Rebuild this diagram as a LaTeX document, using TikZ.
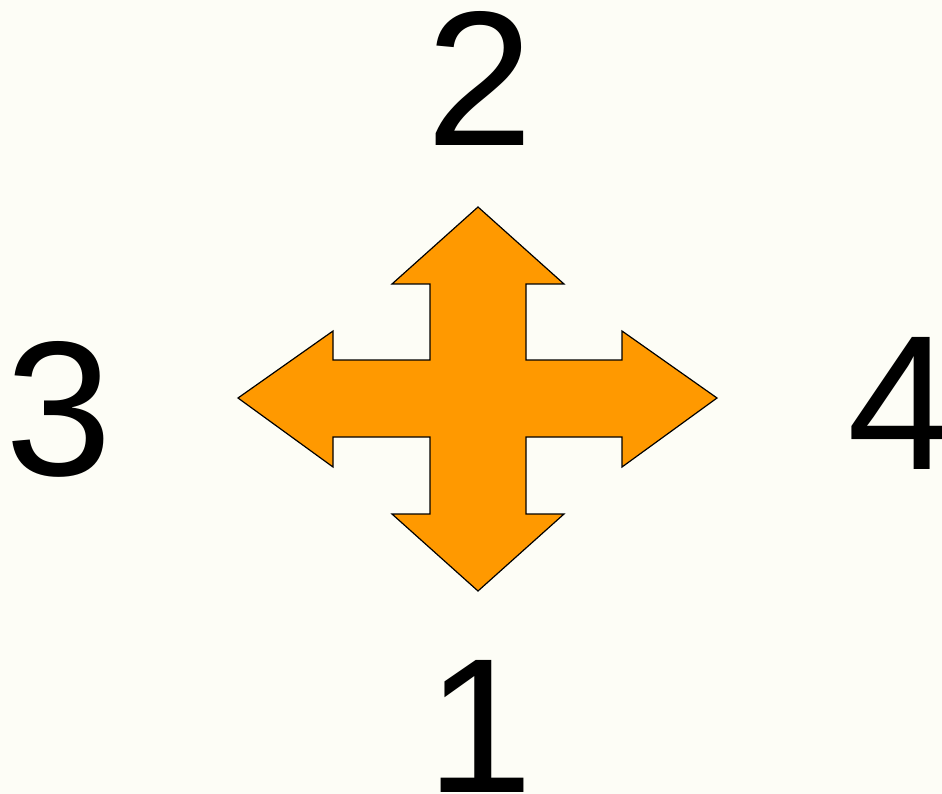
\documentclass[tikz,border=0pt]{standalone}
\usepackage{fontspec}
\setmainfont{Liberation Sans}
\usepackage{xcolor}
\usepackage{tikz}
\definecolor{paper}{HTML}{FDFDF6}
\definecolor{arrowfill}{HTML}{FF9900}
\tikzset{digit/.style={anchor=base,inner sep=0,text height=0.72em,text depth=0pt,
    font=\fontsize{192}{192}\selectfont},
  crossarrow/.style={fill=arrowfill,draw=black,line width=1.2pt,line join=miter}
}

\begin{document}
\begin{tikzpicture}[x=1pt,y=-1pt]
  \fill[paper] (0,0) rectangle (942,794);
  \useasboundingbox (0,0) rectangle (942,794);
  % four-way arrow
  \draw[crossarrow] (478,207) -- (564,284) -- (526,284) -- (526,360) -- (622,360) -- (622,331)
    -- (717,398) -- (622,467) -- (622,437) -- (526,437) -- (526,514) -- (564,514)
    -- (478,591) -- (392,514) -- (430,514) -- (430,437) -- (333,437) -- (333,467)
    -- (238,398) -- (333,331) -- (333,360) -- (430,360) -- (430,284) -- (392,284) -- cycle;
  \begin{scope}[every node/.style={digit}]
    \node (top) at (480,146) {2};
    \node (left) at (59,475) {3};
    \node (right) at (901,469) {4};
    \node (bottom) at (480,792) {1};
  \end{scope}
\end{tikzpicture}
\end{document}
